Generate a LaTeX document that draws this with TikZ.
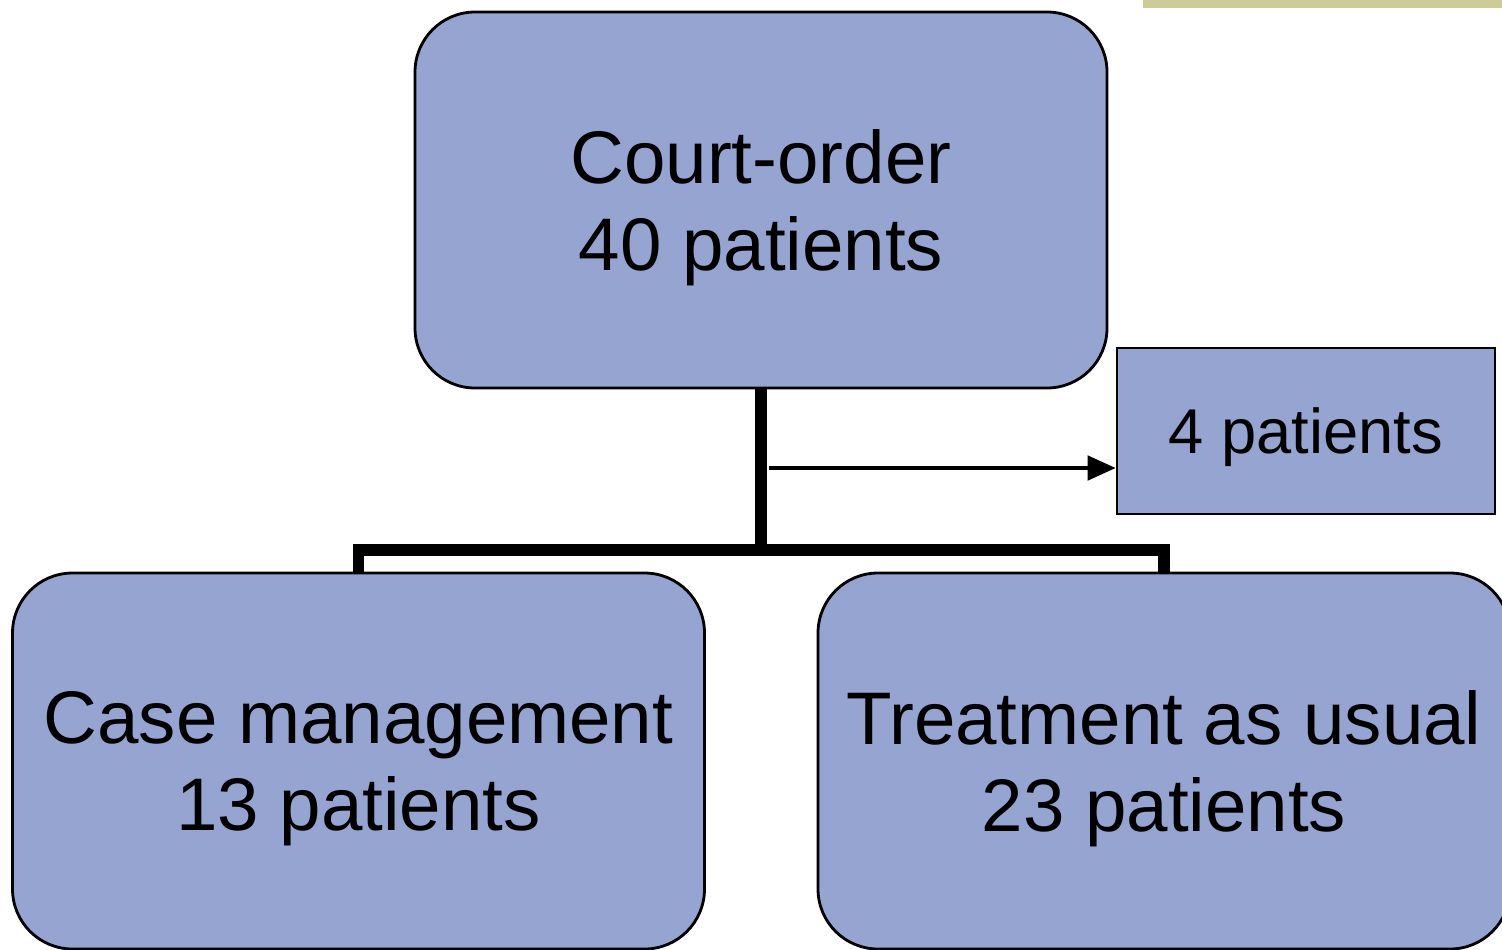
\documentclass[tikz,border=0pt]{standalone}
\usepackage{fontspec}
\setmainfont{Liberation Sans}
\usepackage{tikz}
\usetikzlibrary{arrows.meta}
\definecolor{boxblue}{HTML}{95A4D0}
\definecolor{barolive}{HTML}{CDCC98}
\tikzstyle{group} = [rectangle, rounded corners=0.6cm, minimum width=6.92cm,
minimum height=3.76cm, text centered, align=center, draw=black, line width=0.8pt,
fill=boxblue, text depth=0pt, font=\fontsize{21.2pt}{25pt}\selectfont]
\tikzstyle{dropout} = [rectangle, minimum width=3.78cm, minimum height=1.66cm,
text centered, draw=black, line width=0.8pt, fill=boxblue, text depth=0pt,
font=\fontsize{18pt}{21pt}\selectfont]
\tikzstyle{split} = [line width=3.4pt]
\tikzstyle{arrow} = [line width=1pt, -{Triangle[length=8pt, width=7pt]}]

\begin{document}
\begin{tikzpicture}
  \useasboundingbox (0,0) rectangle (15.02,-9.49);
  \clip (0,0) rectangle (15.02,-9.49);
  % Bar in the corner
  \fill [barolive] (11.43,0) rectangle (15.02,-0.08);
  % Nodes of the study
  \node (court) [group] at (7.61,-2.00) {Court-order\\40 patients};
  \node (lost) [dropout] at (13.06,-4.31) {4 patients};
  \node (case) [group] at (3.585,-7.61) {Case management\\13 patients};
  \node (usual) [group] at (11.64,-7.61) {Treatment as usual\\23 patients};
  \coordinate (fork) at (7.61,-5.50);
  \coordinate (leave) at (7.69,-4.68);
  % Connections
  \draw [split] (court.south) -- (fork);
  \draw [split] (case.north) |- (fork) -| (usual.north);
  \draw [arrow] (leave) -- (leave -| lost.west);
\end{tikzpicture}
\end{document}
